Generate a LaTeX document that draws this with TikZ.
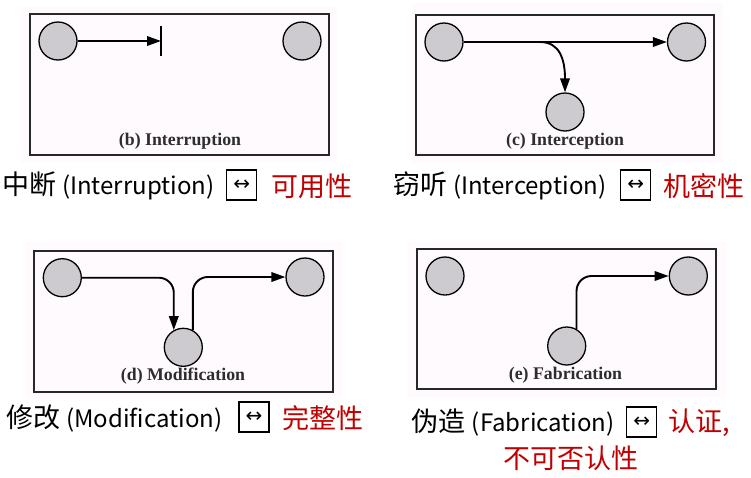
\documentclass[tikz,border=0pt]{standalone}
\usepackage{fontspec}
\setmainfont{Liberation Serif}
\newfontfamily\cjk{Noto Sans CJK SC}
\newfontfamily\sym{DejaVu Sans}
\usetikzlibrary{arrows.meta}
\definecolor{nodegray}{RGB}{205,203,207}
\definecolor{backpink}{RGB}{254,250,253}
\definecolor{framegray}{RGB}{40,40,40}
\definecolor{capred}{RGB}{192,0,0}
\definecolor{labgray}{RGB}{45,45,45}
\newcommand{\hz}[1]{{\fontsize{27}{30}\selectfont #1}}
\newcommand{\lt}[1]{{\fontsize{24}{30}\selectfont #1}}
\tikzset{
  x=1pt, y=-1pt,
  station/.style={circle, draw=black, line width=1.3pt, fill=nodegray, minimum size=38pt, inner sep=0pt},
  panel/.style={draw=framegray, line width=1.5pt, fill=backpink},
  backdrop/.style={fill=backpink, draw=none},
  flow/.style={line width=1.9pt, -{Triangle[length=14pt,width=9.5pt]}},
  plain/.style={line width=1.9pt},
  panellabel/.style={font=\fontsize{17.8}{19}\selectfont\bfseries, text=labgray, inner sep=0pt},
  captext/.style={font=\cjk, inner sep=0pt, anchor=west},
  capred/.style={font=\cjk\fontsize{27}{30}\selectfont, text=capred, inner sep=0pt},
  relbox/.style={draw=black, line width=1.4pt, minimum width=30pt, minimum height=30pt, inner sep=0pt, font=\sym\fontsize{20}{20}\selectfont}
}
\begin{document}
\begin{tikzpicture}
\useasboundingbox (0,0) rectangle (751,477);
\fill[white] (0,0) rectangle (751,477);
% backdrops
\path[backdrop] (20,7) rectangle (337,162);
\path[backdrop] (412,3) rectangle (723,163);
\path[backdrop] (25,242) rectangle (343,399);
\path[backdrop] (408,242) rectangle (727,397);
% panels
\path[panel] (30,14) rectangle (329,155);
\path[panel] (416,15) rectangle (714,155);
\path[panel] (34,251) rectangle (333,392);
\path[panel] (417,249) rectangle (716,389);

% (b) Interruption
\node[station] (Lb) at (58,41) {};
\node[station] (Rb) at (302,41) {};
\coordinate (barb) at (161,41);
\coordinate (bartop) at (161,26);
\coordinate (barbot) at (161,56);
\draw[flow] (Lb) -- (barb);
\draw[plain] (bartop) -- (barbot);
\node[panellabel] (labb) at (180,141) {(b) Interruption};

% (c) Interception
\node[station] (Lc) at (444,42) {};
\node[station] (Rc) at (686.5,42) {};
\node[station] (Bc) at (565,112) {};
\coordinate (splitc) at (540,42);
\draw[flow] (Lc) -- (Rc);
\draw[flow] (splitc) .. controls (560,42) and (565,60) .. (Bc.north);
\node[panellabel] (labc) at (565,141.5) {(c) Interception};

% (d) Modification
\node[station] (Ld) at (62.3,277.7) {};
\node[station] (Rd) at (305,277) {};
\node[station] (Bd) at (183.3,347.3) {};
\draw[flow, rounded corners=15pt] (Ld.east) -| (Bd.119);
\draw[flow, rounded corners=15pt] (Bd.61) |- (Rd.west);
\node[panellabel] (labd) at (183,376.5) {(d) Modification};

% (e) Fabrication
\node[station] (Le) at (445,276) {};
\node[station] (Re) at (688.3,276) {};
\node[station] (Be) at (566.7,346) {};
\draw[flow, rounded corners=15pt] (Be.60) |- (Re.west);
\node[panellabel] (labe) at (565.5,375.5) {(e) Fabrication};

% captions
\node[captext] (capb) at (2,186) {\hz{中断}\hspace{6pt}\lt{(Interruption)}};
\node[relbox] (boxb) at (241.7,185) {↔};
\node[capred, anchor=west] (redb) at (271,186) {可用性};

\node[captext] (capc) at (393,186) {\hz{窃听}\hspace{6pt}\lt{(Interception)}};
\node[relbox] (boxc) at (635.7,185) {↔};
\node[capred, anchor=west] (redc) at (663,186) {机密性};

\node[captext] (capd) at (6,418) {\hz{修改}\hspace{6pt}\lt{(Modification)}};
\node[relbox] (boxd) at (254,417) {↔};
\node[capred, anchor=west] (redd) at (282,418) {完整性};

\node[captext] (cape) at (411.7,422.5) {\hz{伪造}\hspace{6pt}\lt{(Fabrication)}};
\node[relbox] (boxe) at (641.7,422) {↔};
\node[capred, anchor=west] (rede) at (668,422.5) {认证,};
\node[capred] (rede2) at (571,458) {不可否认性};
\end{tikzpicture}
\end{document}
